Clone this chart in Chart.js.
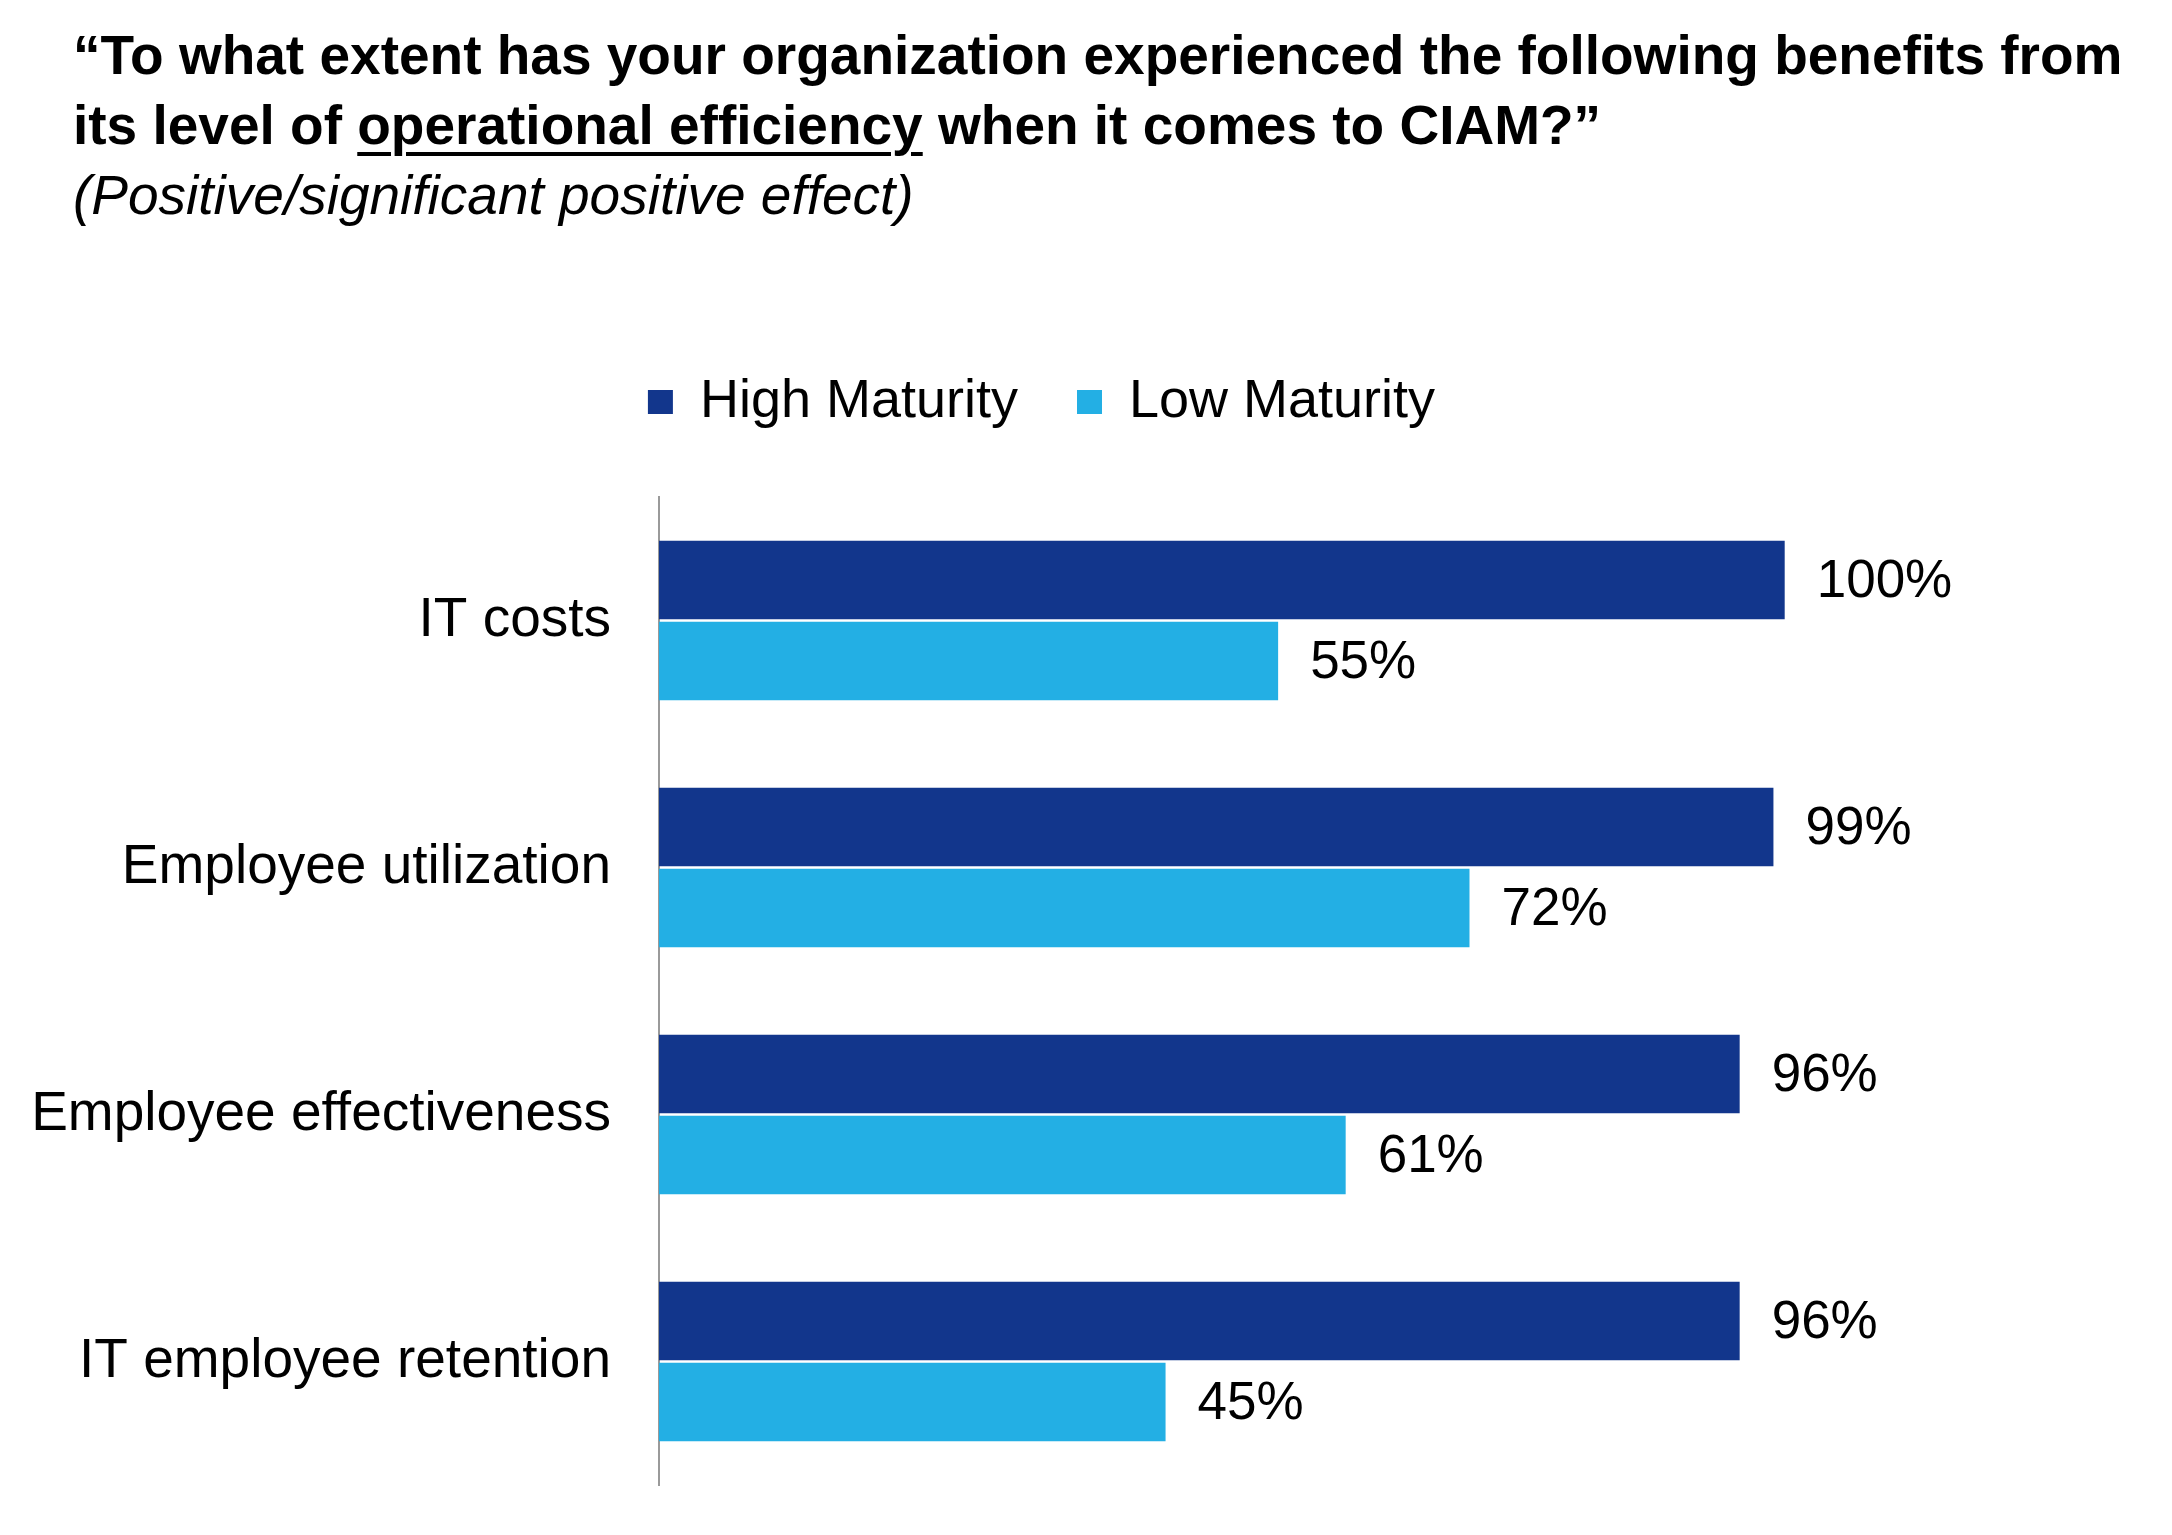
<!DOCTYPE html>
<html>
<head>
<meta charset="utf-8">
<title>CIAM operational efficiency benefits</title>
<script src="https://cdn.jsdelivr.net/npm/chart.js"></script>
<style>
  html, body { margin: 0; padding: 0; background: #ffffff; }
  body { width: 2172px; height: 1535px; position: relative; overflow: hidden;
         font-family: "Liberation Sans", Arial, sans-serif; color: #000; }
  .title { position: absolute; left: 73px; top: 20px; }
  .title div { height: 70px; line-height: 70px; font-size: 55px; white-space: nowrap; }
  .title .q { font-weight: bold; }
  .title u { text-decoration-thickness: 4px; text-underline-offset: 8px; }
  .title .sub { font-style: italic; }
  .chart-wrap { position: absolute; left: 0; top: 0; width: 2083px; height: 1535px; }
</style>
</head>
<body>

<div class="title">
  <div class="q">“To what extent has your organization experienced the following benefits from</div>
  <div class="q">its level of <u>operational efficiency</u> when it comes to CIAM?”</div>
  <div class="sub">(Positive/significant positive effect)</div>
</div>

<div class="chart-wrap"><canvas id="benefitsChart"></canvas></div>

<script>
// ── DATA ─────────────────────────────────────────────
const categories   = ['IT costs', 'Employee utilization', 'Employee effectiveness', 'IT employee retention'];
const highMaturity = [100, 99, 96, 96];
const lowMaturity  = [55, 72, 61, 45];
const seriesNames  = ['High Maturity', 'Low Maturity'];

const FONT = '"Liberation Sans", Arial, sans-serif';
const DARK = '#12368C';
const LIGHT = '#23AFE4';

// value labels at the end of each bar
const valueLabels = {
  id: 'valueLabels',
  afterDatasetsDraw(chart) {
    const ctx = chart.ctx;
    ctx.save();
    ctx.font = '53px ' + FONT;
    ctx.fillStyle = '#000';
    ctx.textAlign = 'left';
    ctx.textBaseline = 'middle';
    chart.data.datasets.forEach((ds, i) => {
      chart.getDatasetMeta(i).data.forEach((bar, j) => {
        ctx.fillText(ds.data[j] + '%', bar.x + 32, bar.y + 2);
      });
    });
    ctx.restore();
  }
};

// push the plot area down below the legend
const legendGap = {
  id: 'legendGap',
  beforeInit(chart) {
    const fit = chart.legend.fit;
    chart.legend.fit = function () {
      fit.call(this);
      this.height += 58;
    };
  }
};

new Chart(document.getElementById('benefitsChart'), {
  type: 'bar',
  data: {
    labels: categories,
    datasets: [
      { label: seriesNames[0], data: highMaturity, backgroundColor: DARK, borderWidth: 0 },
      { label: seriesNames[1], data: lowMaturity,  backgroundColor: LIGHT, borderWidth: 0 }
    ]
  },
  options: {
    indexAxis: 'y',
    responsive: true,
    maintainAspectRatio: false,
    animation: false,
    datasets: { bar: { categoryPercentage: 0.656, barPercentage: 0.97 } },
    layout: { padding: { top: 316, bottom: 50, left: 0, right: 0 } },
    plugins: {
      legend: {
        position: 'top',
        align: 'center',
        labels: {
          font: { family: FONT, size: 54 },
          color: '#000',
          boxWidth: 25,
          boxHeight: 24,
          padding: 59
        }
      },
      tooltip: { enabled: false }
    },
    scales: {
      x: { display: false, min: 0, max: 126.5 },
      y: {
        grid: { display: false },
        border: { display: true, color: '#9a9a9a', width: 2 },
        ticks: { font: { family: FONT, size: 55 }, color: '#000', padding: 40 },
        afterFit(scale) {
          scale.width = 659;
          scale.paddingTop = 0;
          scale.paddingBottom = 0;
        }
      }
    }
  },
  plugins: [valueLabels, legendGap]
});
</script>
</body>
</html>
